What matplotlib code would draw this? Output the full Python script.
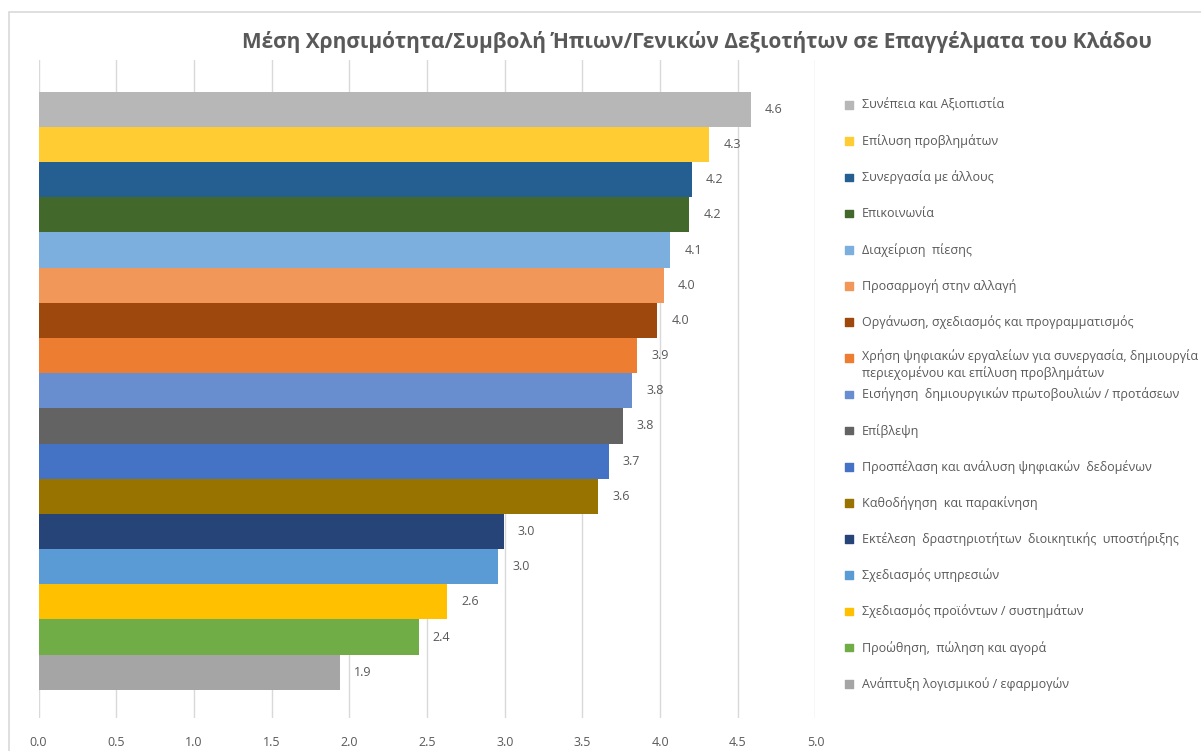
import matplotlib
matplotlib.use('Agg')
import matplotlib.pyplot as plt
from matplotlib.patches import Rectangle

# data, top bar first
skills = [
    'Συνέπεια και Αξιοπιστία',
    'Επίλυση προβλημάτων',
    'Συνεργασία με άλλους',
    'Επικοινωνία',
    'Διαχείριση  πίεσης',
    'Προσαρμογή στην αλλαγή',
    'Οργάνωση, σχεδιασμός και προγραμματισμός',
    'Χρήση ψηφιακών εργαλείων για συνεργασία, δημιουργία\nπεριεχομένου και επίλυση προβλημάτων',
    'Εισήγηση  δημιουργικών πρωτοβουλιών / προτάσεων',
    'Επίβλεψη',
    'Προσπέλαση και ανάλυση ψηφιακών  δεδομένων',
    'Καθοδήγηση  και παρακίνηση',
    'Εκτέλεση  δραστηριοτήτων  διοικητικής  υποστήριξης',
    'Σχεδιασμός υπηρεσιών',
    'Σχεδιασμός προϊόντων / συστημάτων',
    'Προώθηση,  πώληση και αγορά',
    'Ανάπτυξη λογισμικού / εφαρμογών',
]
scores = [4.585, 4.317, 4.203, 4.188, 4.066, 4.027, 3.982, 3.853, 3.821,
          3.759, 3.669, 3.602, 2.996, 2.959, 2.631, 2.447, 1.940]
colors = ['#B7B7B7', '#FFCD33', '#255E91', '#43682B', '#7CAFDD', '#F1975A',
          '#9E480E', '#ED7D31', '#698ED0', '#636363', '#4472C4', '#997300',
          '#264478', '#5B9BD5', '#FFC000', '#70AD47', '#A5A5A5']
xticks = [0.0, 0.5, 1.0, 1.5, 2.0, 2.5, 3.0, 3.5, 4.0, 4.5, 5.0]

title = 'Μέση Χρησιμότητα/Συμβολή Ήπιων/Γενικών Δεξιοτήτων σε Επαγγέλματα του Κλάδου'
txtcol = '#595959'
gridcol = '#D9D9D9'
fam = ['Open Sans', 'DejaVu Sans']

W, H = 1201, 751
fig = plt.figure(figsize=(W / 100, H / 100), dpi=100)

# chart frame
fig.patches.append(Rectangle((9 / W, -0.05), 1.2, 1 - 12 / H + 0.05,
                             transform=fig.transFigure, fill=False,
                             edgecolor=gridcol, linewidth=1.2))

ax = fig.add_axes([38.5 / W, 1 - 718 / H, 777 / W, 658 / H])
ypos = list(range(len(skills)))
bars = ax.barh(ypos, scores, height=1.0, color=colors, zorder=2)
ax.bar_label(bars, labels=[f'{v:.1f}' for v in scores], padding=10,
             fontsize=9, color=txtcol, family=fam)

ax.set_xlim(0, 5)
ax.set_ylim(len(skills) - 0.5 + 0.8, -0.5 - 0.9)
ax.set_xticks(xticks)
ax.set_xticklabels([f'{t:.1f}' for t in xticks], fontsize=9, color=txtcol,
                   family=fam)
ax.set_yticks([])
ax.tick_params(axis='x', length=0, pad=13)
ax.grid(axis='x', color=gridcol, linewidth=1, zorder=0)
for s in ax.spines.values():
    s.set_visible(False)

# legend, entries spaced a little wider than the bars
lax = fig.add_axes([840 / W, 1 - 718 / H, (W - 840) / W, 658 / H])
lax.set_xlim(0, 1)
lax.set_ylim(ax.get_ylim())
lax.axis('off')
leg_y = [y * 1.028 - 0.12 for y in ypos]
lax.scatter([0.025] * len(skills), leg_y, marker='s', s=30, c=colors)
for y, name in zip(leg_y, skills):
    if '\n' in name:
        lax.text(0.06, y - 0.25, name, va='top', ha='left', fontsize=9,
                 color=txtcol, family=fam, linespacing=1.3)
    else:
        lax.text(0.06, y, name, va='center', ha='left', fontsize=9,
                 color=txtcol, family=fam)

fig.text(697 / W, 1 - 42 / H, title, ha='center', va='center', fontsize=15,
         fontweight='bold', color=txtcol, family=fam)

fig.savefig('out.png', dpi=100)
